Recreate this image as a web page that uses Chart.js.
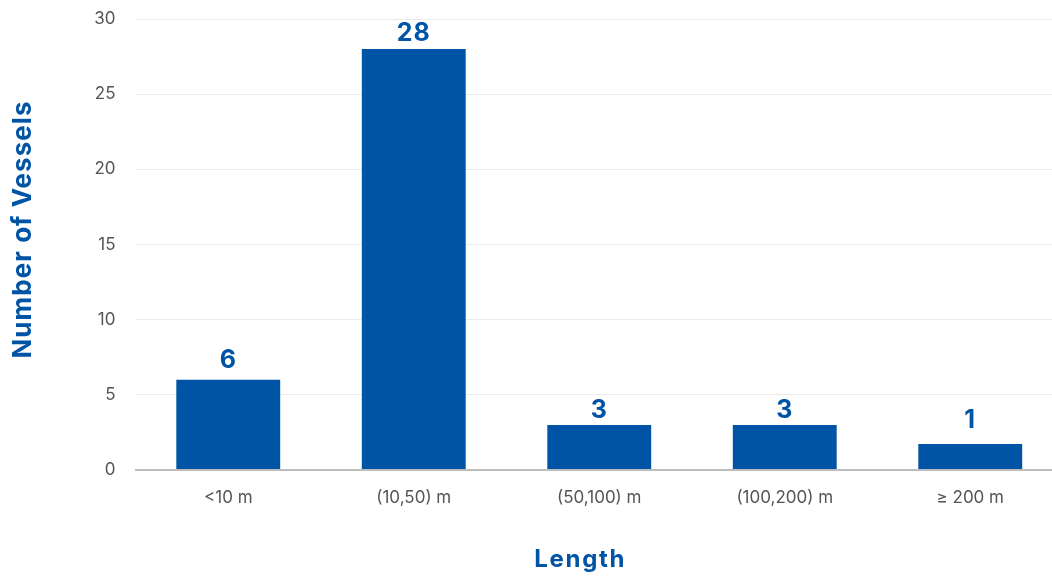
<!DOCTYPE html>
<html>
<head>
<meta charset="utf-8">
<script src="https://cdn.jsdelivr.net/npm/chart.js@4/dist/chart.umd.min.js"></script>
<style>
  html, body { margin: 0; padding: 0; background: #fff; overflow: hidden; }
  #wrap { position: relative; width: 1063px; height: 576px; }
</style>
</head>
<body>
<div id="wrap"><canvas id="c"></canvas></div>
<script>
const categories = ['<10 m', '(10,50) m', '(50,100) m', '(100,200) m', '\u2265 200 m'];
const vessels = [6, 28, 3, 3, 1];
const yTicks = [0, 5, 10, 15, 20, 25, 30];

const BLUE = '#0054a5';
const FONT = 'Inter, "Open Sans", sans-serif';

function fitText(ctx, text, target) {
  ctx.letterSpacing = '0px';
  const w = ctx.measureText(text).width;
  const ls = Math.max(0, (target - w) / text.length);
  ctx.letterSpacing = ls.toFixed(2) + 'px';
}

const labelPlugin = {
  id: 'barLabels',
  afterDraw(chart, args, opts) {
    const ctx = chart.ctx;
    const meta = chart.getDatasetMeta(0);
    ctx.save();
    ctx.fillStyle = BLUE;
    ctx.font = 'bold 25px ' + FONT;
    ctx.textAlign = 'center';
    ctx.textBaseline = 'alphabetic';
    ctx.letterSpacing = '1px';
    meta.data.forEach((bar, i) => {
      const gap = opts.gaps[i];
      ctx.fillText(String(chart.data.datasets[0].data[i]), bar.x, bar.y - gap);
    });
    // axis titles
    const ca = chart.chartArea;
    ctx.font = 'bold 24px ' + FONT;
    fitText(ctx, 'Length', 92);
    ctx.fillText('Length', (ca.left + ca.right) / 2 - 19, 567);
    ctx.save();
    ctx.translate(31, (ca.top + ca.bottom) / 2 - 15);
    ctx.rotate(-Math.PI / 2);
    ctx.font = 'bold 26px ' + FONT;
    fitText(ctx, 'Number of Vessels', 258);
    ctx.fillText('Number of Vessels', 0, 0);
    ctx.restore();
    ctx.restore();
  }
};

new Chart(document.getElementById('c'), {
  type: 'bar',
  data: {
    labels: categories,
    datasets: [{
      data: vessels,
      backgroundColor: BLUE,
      borderWidth: 0,
      barPercentage: 0.56,
      categoryPercentage: 1.0,
      minBarLength: 26
    }]
  },
  options: {
    responsive: true,
    maintainAspectRatio: false,
    animation: false,
    layout: { padding: { top: 19, right: 0, bottom: 0, left: 0 } },
    plugins: {
      legend: { display: false },
      tooltip: { enabled: false },
      barLabels: { gaps: [12, 8.5, 6.5, 6.5, 16] }
    },
    scales: {
      x: {
        grid: { display: false, drawTicks: false },
        border: { display: true, color: '#bdbdbd', width: 2 },
        ticks: { color: '#555', font: { family: FONT, size: 17 }, padding: 18 },
        afterFit(scale) { scale.height = 106; scale.paddingLeft = 0; scale.paddingRight = 0; }
      },
      y: {
        z: 1,
        min: 0,
        max: 30,
        afterBuildTicks(scale) { scale.ticks = yTicks.map(v => ({ value: v })); },
        grid: {
          drawTicks: false,
          color: ctx => ctx.tick && ctx.tick.value === 0 ? '#bdbdbd' : 'rgba(232,232,232,0.85)',
          lineWidth: ctx => ctx.tick && ctx.tick.value === 0 ? 2 : 1
        },
        border: { display: false },
        ticks: { color: '#555', font: { family: FONT, size: 17 }, padding: 20 },
        afterFit(scale) { scale.width = 135.5; scale.paddingTop = 0; scale.paddingBottom = 0; }
      }
    }
  },
  plugins: [labelPlugin]
});
</script>
</body>
</html>
